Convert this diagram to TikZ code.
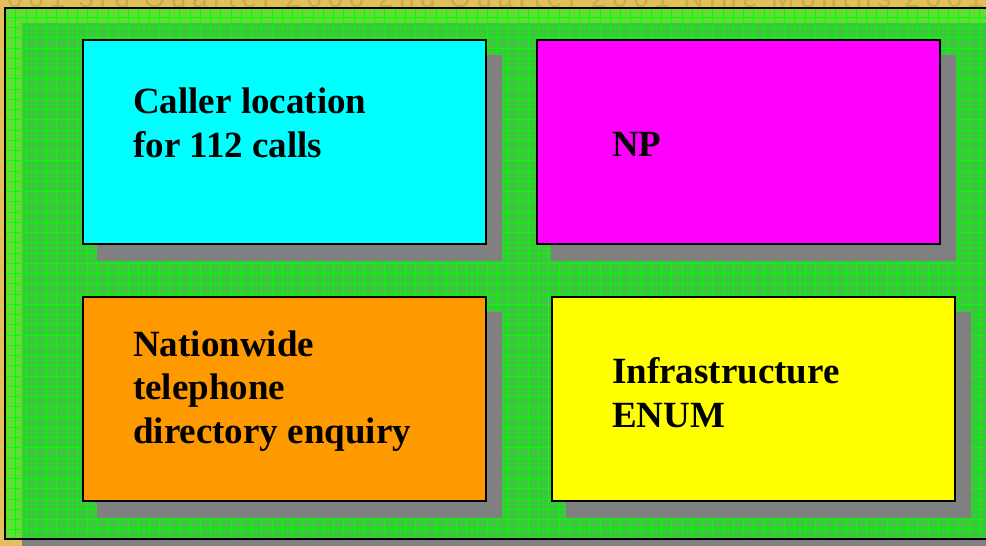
\documentclass[tikz,border=0pt]{standalone}
\usepackage{fontspec}
\setmainfont{Liberation Serif}
\newfontfamily\wmfont[LetterSpace=20]{Liberation Sans}
\definecolor{goldbg}{HTML}{E2BF58}
\definecolor{wmgold}{HTML}{CDAB4C}
\definecolor{lightgreen}{HTML}{62DD36}
\definecolor{darkgreen}{HTML}{3EC63E}
\definecolor{gridgreen}{HTML}{00FF00}
\definecolor{shadowgray}{HTML}{808080}
\definecolor{boxcyan}{HTML}{00FFFF}
\definecolor{boxmagenta}{HTML}{FF00FF}
\definecolor{boxorange}{HTML}{FF9900}
\definecolor{boxyellow}{HTML}{FFFF00}
\tikzset{
  wm/.style={anchor=base west, inner sep=0pt, text=wmgold, font=\wmfont\fontsize{28}{28}\selectfont},
  gridline/.style={gridgreen, line width=0.8pt},
  box/.style={draw=black, line width=2pt, minimum width=403pt, minimum height=204pt, inner sep=0pt},
  boxshadow/.style={fill=shadowgray},
  label text/.style={anchor=base west, inner sep=0pt, align=left, font=\bfseries\fontsize{37}{43.5}\selectfont}
}
\begin{document}
\begin{tikzpicture}[x=1pt,y=-1pt]
\useasboundingbox (0,0) rectangle (986,546);
\fill[goldbg] (0,0) rectangle (986,546);
% watermark text in the background
\node[wm] (wm) at (7,7) {001 3rd Quarter 2000 2nd Quarter 2001 Nine Months 2001};
% green panel
\fill[shadowgray] (22,539) rectangle (990,546);
\fill[lightgreen] (5,8) rectangle (990,539);
\fill[darkgreen] (22,23) rectangle (990,539);
\begin{scope}
\clip (5,8) rectangle (990,539);
\foreach \i in {0,...,96} \draw[gridline] (5.5+\i*10.25,8) -- (5.5+\i*10.25,539);
\foreach \j in {0,...,52} \draw[gridline] (5,7+\j*10.25) -- (990,7+\j*10.25);
\end{scope}
\draw[black, line width=2pt] (5,8) rectangle (992,539);
% boxes
\coordinate (c1) at (284.5,142);
\coordinate (c2) at (738.5,142);
\coordinate (c3) at (284.5,399);
\coordinate (c4) at (753.5,399);
\foreach \c in {c1,c2,c3,c4}
  \fill[boxshadow] ([shift={(-187.5,-87)}]\c) rectangle ([shift={(217.5,119)}]\c);
\node[box, fill=boxcyan] (caller) at (c1) {};
\node[box, fill=boxmagenta] (np) at (c2) {};
\node[box, fill=boxorange] (directory) at (c3) {};
\node[box, fill=boxyellow] (enum) at (c4) {};
% texts (anchored at the baseline of their last line)
\node[label text] (callertext) at (133,157) {Caller location\\for 112 calls};
\node[label text] (nptext) at (612,156) {NP};
\node[label text] (directorytext) at (133,443) {Nationwide\\telephone\\directory enquiry};
\node[label text] (enumtext) at (612,427) {Infrastructure\\ENUM};
\end{tikzpicture}
\end{document}
